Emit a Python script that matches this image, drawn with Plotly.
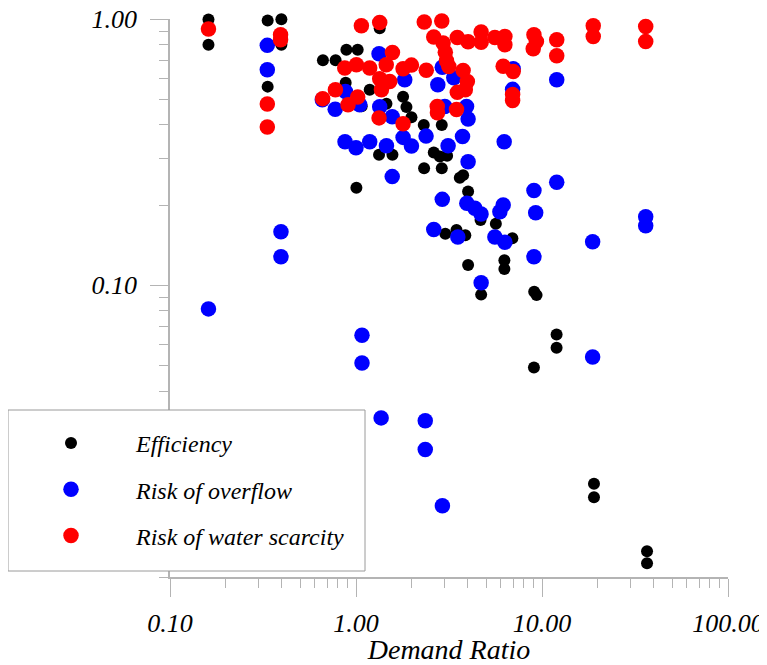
import plotly.graph_objects as go

# ---- data ----
eff_x = [0.161, 0.161, 0.335, 0.335, 0.397, 0.397, 0.664, 0.777, 0.888, 1.021,
         1.341, 0.880, 1.185, 1.073, 1.458, 1.791, 1.867, 1.987, 2.314, 2.892,
         1.330, 1.570, 1.005, 2.619, 2.822, 3.089, 2.323, 2.892, 3.614, 3.766,
         4.006, 4.673, 5.648, 3.021, 3.470, 3.870, 6.930, 6.277, 6.277, 4.006,
         4.708, 9.08, 9.35, 11.98, 11.98, 9.05, 19.03, 19.03, 36.7, 36.7]
eff_y = [0.995, 0.800, 0.988, 0.557, 0.998, 0.800, 0.700, 0.700, 0.766, 0.766,
         0.923, 0.576, 0.542, 0.470, 0.480, 0.510, 0.467, 0.427, 0.400, 0.400,
         0.309, 0.309, 0.232, 0.315, 0.304, 0.306, 0.275, 0.275, 0.253, 0.259,
         0.225, 0.1757, 0.170, 0.156, 0.161, 0.154, 0.150, 0.124, 0.115, 0.119,
         0.0921, 0.0944, 0.0917, 0.0652, 0.0581, 0.0490, 0.01794, 0.01596, 0.0100, 0.00901]

ovf_x = [0.161, 0.3335, 0.3335, 0.395, 0.395, 0.659, 0.773, 0.877, 1.047, 1.330,
         1.341, 1.566, 1.828, 0.873, 1.000, 1.185, 1.458, 1.791, 1.987, 1.566,
         2.381, 3.127, 3.738, 6.262, 4.006, 2.910, 3.943, 4.355, 4.702, 6.185,
         5.937, 9.05, 12.00, 9.25, 2.619, 3.527, 5.579, 6.316, 9.05, 4.708,
         18.72, 36.1, 36.1, 18.72, 1.077, 1.077, 1.365, 2.357, 2.357, 2.914,
         12.00, 2.753, 2.910, 3.356, 7.00, 6.95, 3.929, 4.006, 3.002]
ovf_y = [0.0814, 0.796, 0.645, 0.1588, 0.1278, 0.497, 0.458, 0.534, 0.476, 0.740,
         0.468, 0.429, 0.591, 0.346, 0.328, 0.346, 0.334, 0.359, 0.333, 0.2557,
         0.363, 0.334, 0.362, 0.346, 0.291, 0.210, 0.203, 0.1944, 0.185, 0.200,
         0.1887, 0.2268, 0.2437, 0.1871, 0.1617, 0.1517, 0.1517, 0.1449, 0.1278, 0.1020,
         0.1455, 0.1807, 0.1672, 0.0537, 0.0648, 0.0510, 0.0317, 0.0309, 0.0241, 0.01482,
         0.591, 0.566, 0.659, 0.601, 0.650, 0.544, 0.469, 0.421, 0.469]

sca_x = [0.161, 0.3335, 0.3335, 0.393, 0.393, 1.069, 1.341, 2.328, 2.892, 2.619,
         2.940, 3.021, 3.066, 3.155, 3.505, 4.006, 4.708, 4.708, 5.579, 6.316,
         6.316, 9.05, 9.33, 8.97, 12.00, 12.00, 18.86, 18.86, 36.1, 36.1,
         1.570, 0.870, 1.005, 1.185, 1.454, 1.791, 1.987, 1.341, 1.518, 1.370,
         2.387, 0.662, 0.775, 0.906, 1.021, 1.330, 1.791, 2.735, 2.742, 3.470,
         3.766, 3.968, 3.870, 3.505, 6.185, 7.00, 6.95, 6.95]
sca_y = [0.917, 0.479, 0.393, 0.873, 0.836, 0.944, 0.971, 0.974, 0.983, 0.856,
         0.812, 0.750, 0.697, 0.663, 0.852, 0.821, 0.894, 0.818, 0.852, 0.860,
         0.800, 0.873, 0.823, 0.773, 0.836, 0.727, 0.944, 0.860, 0.938, 0.823,
         0.749, 0.654, 0.673, 0.654, 0.673, 0.650, 0.671, 0.596, 0.582, 0.542,
         0.642, 0.502, 0.542, 0.476, 0.509, 0.425, 0.404, 0.469, 0.444, 0.457,
         0.640, 0.582, 0.542, 0.530, 0.665, 0.635, 0.520, 0.494]

series_names = ["Efficiency", "Risk of overflow", "Risk of water scarcity"]
series_colors = ["#000000", "#0000ff", "#ff0000"]
series_sizes = [12, 15.5, 15.5]

FONT = "Liberation Serif, Times New Roman, serif"
AXC = "#b4b4b4"

# the page body adds an 8 px offset; the figure is sized to fill the rest
OFF = 8
W, H = 767 - OFF, 665 - OFF
ML, MT, PW, PH = 170 - OFF, 19 - OFF, 558, 558
MR, MB = W - ML - PW, H - MT - PH


def px_to_paper_x(px):
    return (px - OFF - ML) / PW


def px_to_paper_y(py):
    return (MT + PH - (py - OFF)) / PH


fig = go.Figure()
for name, xs, ys, col, sz in zip(series_names, [eff_x, ovf_x, sca_x], [eff_y, ovf_y, sca_y],
                                 series_colors, series_sizes):
    fig.add_trace(go.Scatter(
        x=xs, y=ys, mode="markers", name=name, legendgroup=name,
        marker=dict(color=col, size=sz, line=dict(width=0)),
        cliponaxis=False,
    ))

axis_common = dict(
    type="log", showgrid=False, zeroline=False, automargin=False,
    showline=True, linecolor=AXC, linewidth=1.5,
    ticks="outside", ticklen=18, tickwidth=1.2, tickcolor=AXC,
    dtick=1, tickformat=".2f", ticklabeloverflow="allow",
    tickfont=dict(family=FONT, size=26, color="#000", style="italic"),
    minor=dict(ticks="outside", ticklen=9, tickwidth=1.2, tickcolor=AXC,
               dtick="D1", showgrid=False),
)

# legend frame (white box that hides the axis beneath it, as in the reference)
fig.add_shape(
    type="rect", xref="paper", yref="paper", layer="above",
    x0=px_to_paper_x(8), x1=px_to_paper_x(365),
    y0=px_to_paper_y(571), y1=px_to_paper_y(410),
    fillcolor="white", line=dict(color="#9a9a9a", width=1),
)

fig.update_layout(
    width=W, height=H,
    margin=dict(l=ML, r=MR, t=MT, b=MB, autoexpand=False),
    paper_bgcolor="white", plot_bgcolor="white",
    xaxis=dict(range=[-1, 2], ticklabelstandoff=4,
               title=dict(text="Demand Ratio", standoff=2,
                          font=dict(family=FONT, size=28, color="#000", style="italic")),
               **axis_common),
    yaxis=dict(range=[-2.0969, 0], ticklabelstandoff=8, **axis_common),
    legend=dict(
        x=px_to_paper_x(6), y=px_to_paper_y(421), xanchor="left", yanchor="top",
        bgcolor="rgba(0,0,0,0)", borderwidth=0,
        font=dict(family=FONT, size=24, color="#000", style="italic"),
        itemwidth=120, tracegroupgap=12,
    ),
    showlegend=True,
)

fig.write_html("out.html")
